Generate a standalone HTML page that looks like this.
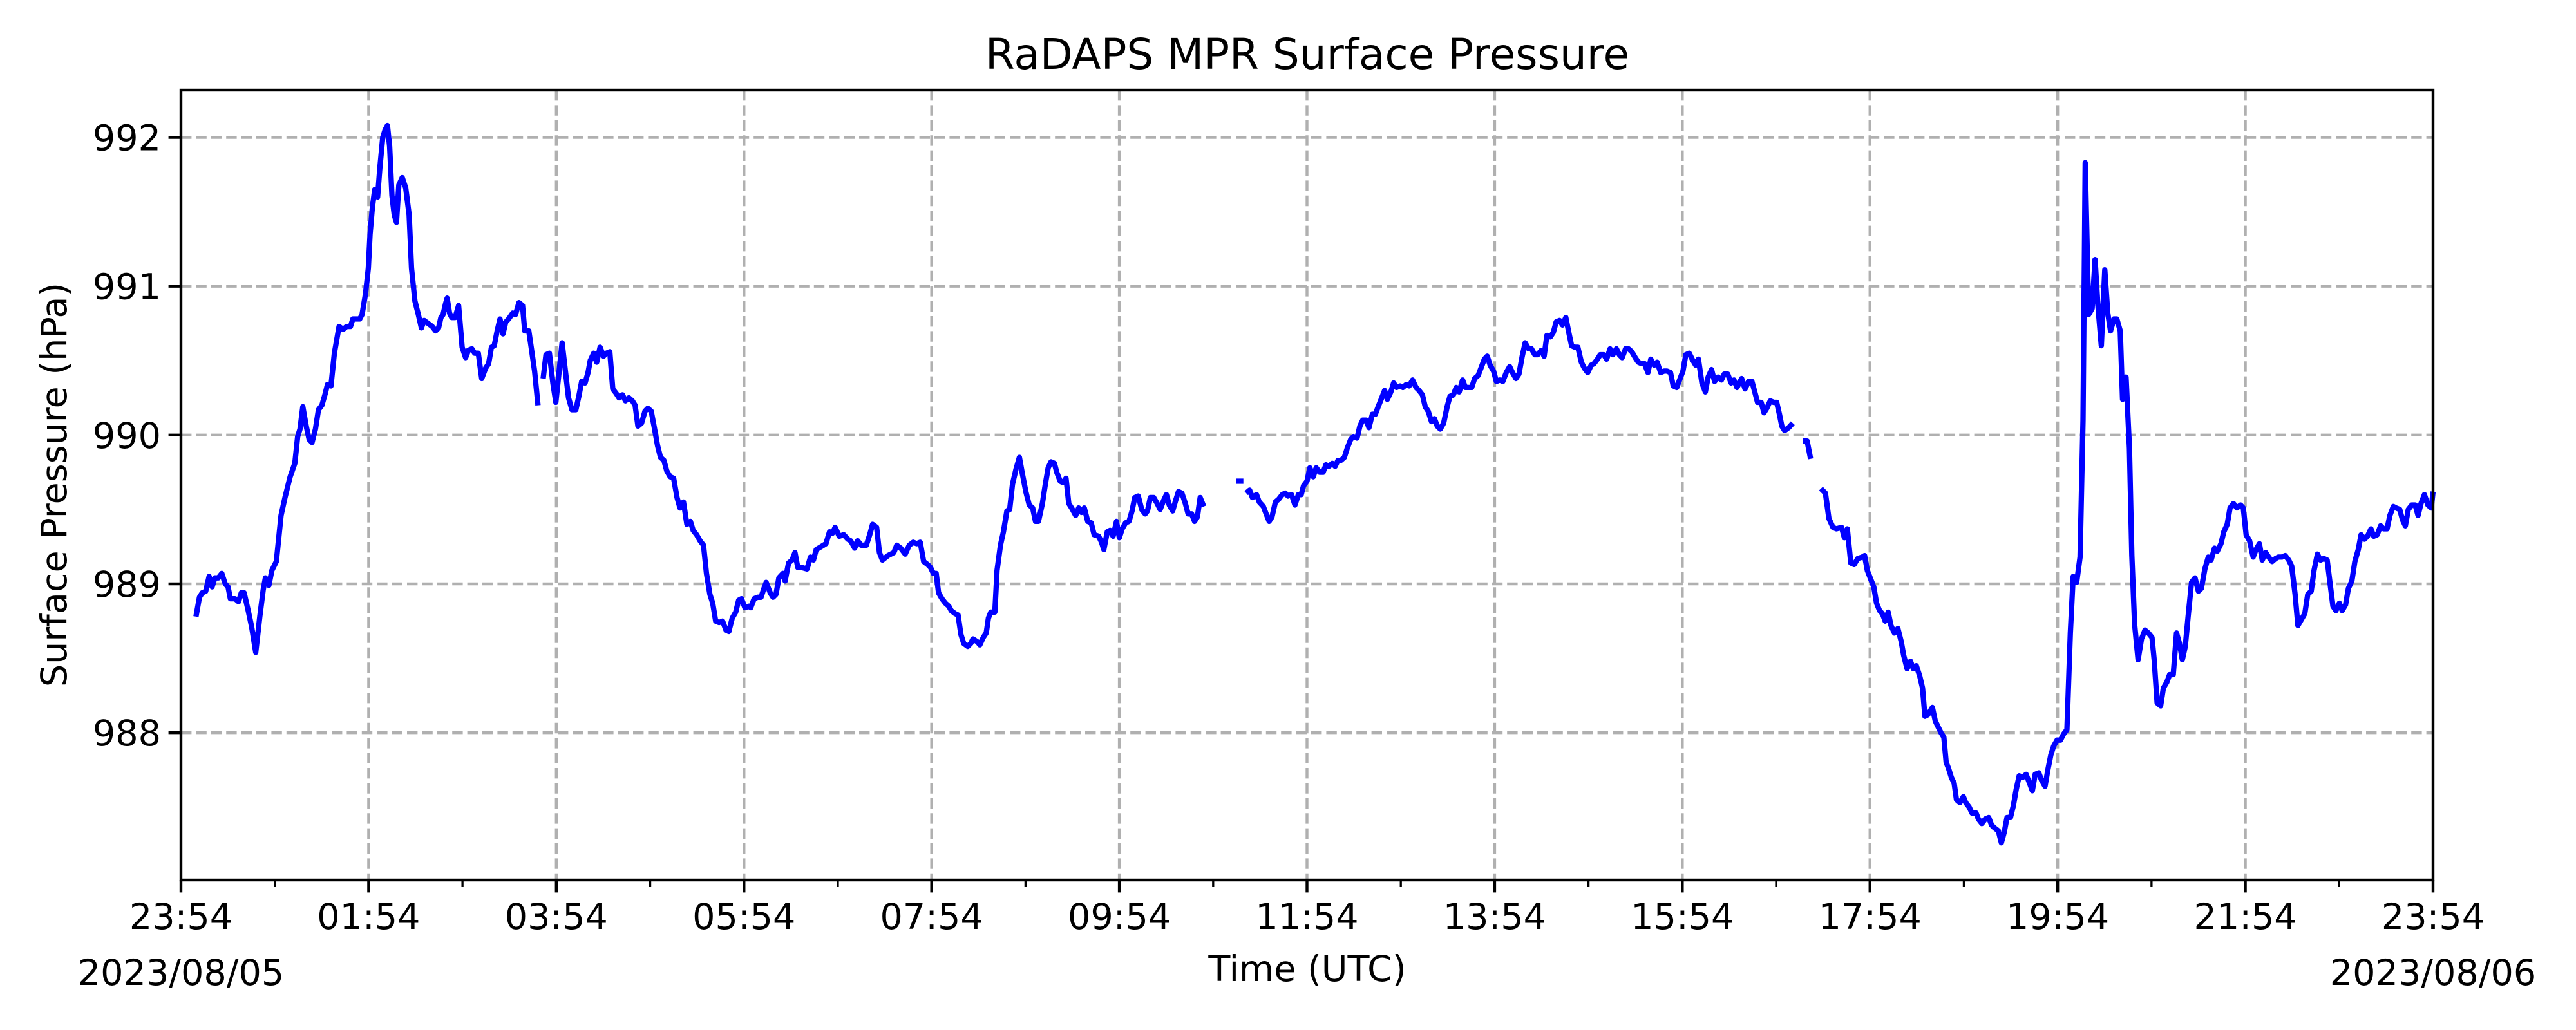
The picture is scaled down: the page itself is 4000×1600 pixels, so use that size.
<!DOCTYPE html>
<html><head><meta charset="utf-8"><title>RaDAPS MPR Surface Pressure</title>
<style>html,body{margin:0;padding:0;background:#fff;}svg{display:block;}text{font-family:"DejaVu Sans","Liberation Sans",sans-serif;fill:#000;}</style>
</head><body>
<svg id="chart" xmlns="http://www.w3.org/2000/svg" width="4000" height="1600" viewBox="0 0 4000 1600">
<rect width="4000" height="1600" fill="#fff"/>
<text x="2030" y="107" font-size="66" text-anchor="middle">RaDAPS MPR Surface Pressure</text>
<g id="grid"></g>
<g id="series"></g>
<rect x="281" y="140" width="3497" height="1227" fill="none" stroke="#000" stroke-width="4.4"/>
<g id="axes"></g>
<text x="2030" y="1524" font-size="55.6" text-anchor="middle">Time (UTC)</text>
<text x="0" y="0" font-size="55.6" text-anchor="middle" transform="translate(103,753) rotate(-90)">Surface Pressure (hPa)</text>
<text x="281" y="1530" font-size="55.6" text-anchor="middle">2023/08/05</text>
<text x="3778" y="1530" font-size="55.6" text-anchor="middle">2023/08/06</text>
</svg>
<script>
// minutes since 23:54 (2023/08/05); null = data gap
const times = [9.6,11.8,13.6,15.8,18.0,19.9,21.7,23.9,26.1,28.3,30.1,31.6,34.6,36.8,38.6,40.4,43.0,45.2,47.8,50.4,52.6,54.0,56.2,58.1,61.0,64.0,66.5,69.8,72.8,74.6,76.1,77.9,80.1,82.0,83.8,86.0,87.9,90.1,92.3,93.7,95.9,98.1,101.1,103.7,105.9,108.4,109.9,114.3,115.8,118.0,119.8,120.9,122.4,123.9,125.7,127.2,129.0,130.5,132.0,133.4,134.9,136.4,137.8,139.3,141.5,143.7,145.9,147.4,149.6,151.8,153.7,155.5,158.1,160.6,162.8,164.7,166.2,167.6,169.1,170.2,171.7,173.1,175.3,177.5,179.8,182.0,183.8,186.0,187.8,190.1,192.3,194.8,196.7,198.5,200.3,202.2,204.0,205.9,207.7,209.5,212.1,213.9,216.1,218.4,219.8,222.4,224.2,226.1,228.3,null,231.6,233.4,235.6,237.8,239.7,241.5,243.7,245.9,247.8,250.0,252.5,254.4,256.2,258.4,260.3,261.7,263.9,265.8,268.0,270.2,272.0,274.2,276.1,278.3,280.1,282.3,284.2,286.4,288.6,290.4,292.2,294.5,296.7,298.5,300.7,302.5,304.7,306.6,308.8,310.6,312.8,315.0,317.2,319.1,321.3,323.5,325.7,327.5,329.7,331.9,334.1,336.0,338.2,340.0,341.9,344.1,346.3,348.5,350.3,352.5,354.7,356.6,358.4,360.6,363.2,364.3,366.5,368.7,370.9,373.1,374.2,376.8,378.6,380.5,382.3,384.9,386.3,388.5,390.8,392.6,394.4,397.0,400.3,402.5,404.4,406.2,412.4,414.7,416.5,418.3,420.9,423.8,426.4,428.2,430.8,432.7,434.9,438.2,440.4,442.2,444.8,446.6,448.5,452.1,455.8,457.7,
460.2,463.1,465.7,468.2,470.4,472.7,474.9,477.4,479.3,481.1,482.9,484.4,486.6,488.8,491.0,492.5,495.0,496.9,498.7,500.5,503.1,505.0,506.4,509.3,510.8,513.0,514.9,516.3,517.8,520.4,521.8,524.0,525.9,528.1,529.9,531.7,533.9,536.1,538.0,540.2,542.4,544.6,546.4,548.3,550.8,552.7,554.5,556.3,558.5,560.0,562.2,564.0,565.9,567.7,569.5,572.1,574.0,575.8,577.6,579.8,582.0,583.9,586.8,588.6,590.1,592.3,594.1,596.0,598.2,600.0,601.8,604.0,606.2,608.1,609.9,612.1,614.3,616.5,618.0,619.8,622.0,624.2,626.1,628.3,630.1,631.9,634.1,636.0,637.8,640.0,642.2,644.0,646.2,648.1,649.9,651.7,654.0,null,674.9,679.3,null,681.1,683.3,685.1,687.7,689.5,692.1,693.9,695.8,697.6,699.8,702.0,704.2,706.1,707.9,710.1,712.3,714.5,716.3,717.8,720.0,721.8,724.0,725.9,728.1,730.3,732.1,734.0,736.2,738.0,739.8,741.7,743.9,745.7,747.9,749.7,752.0,753.8,755.6,757.8,759.6,761.8,763.7,765.5,767.4,769.6,771.4,773.6,775.4,777.3,779.5,781.3,783.5,785.3,787.5,789.7,791.6,793.8,795.6,797.5,799.6,801.5,803.3,805.2,807.4,809.6,811.4,813.6,815.4,817.3,819.5,821.3,823.5,825.3,827.2,829.4,831.6,833.4,835.2,837.1,839.3,841.1,843.3,845.2,847.4,849.6,851.4,853.6,855.5,857.6,859.5,861.7,863.5,865.7,867.5,869.8,871.6,873.4,875.6,877.5,879.3,881.5,883.3,885.5,887.4,889.2,891.4,893.2,895.4,897.3,899.5,901.7,903.5,905.7,907.5,909.8,911.6,913.8,915.6,917.8,919.7,921.5,923.7,925.5,927.7,929.9,931.8,934.0,935.8,938.0,939.8,942.0,943.9,946.1,948.3,950.1,952.4,954.2,956.4,958.2,960.4,962.2,964.4,966.3,968.5,970.3,972.5,974.7,976.5,978.7,980.6,982.8,985.0,986.8,989.0,991.2,993.0,994.9,
997.9,1000.1,1002.3,1004.5,1006.3,1008.1,1010.4,1012.2,1014.0,1016.2,1018.4,1020.3,1022.1,1023.6,1025.4,1028.0,1030.6,null,1037.2,1039.8,1042.0,null,1048.6,1051.5,1053.7,1056.3,1058.5,1061.8,1063.6,1065.5,1067.7,1069.9,1072.1,1075.0,1076.5,1078.3,1080.5,1082.4,1084.2,1086.1,1087.9,1089.7,1091.6,1093.4,1095.6,1097.8,1100.0,1101.5,1103.7,1105.9,1107.7,1109.6,1111.8,1113.6,1115.1,1116.9,1119.9,1121.7,1123.5,1125.4,1127.2,1128.7,1130.2,1132.0,1133.8,1135.3,1137.5,1139.7,1141.2,1143.4,1145.2,1147.8,1149.3,1151.5,1153.7,1155.9,1157.7,1159.6,1162.1,1164.0,1165.8,1167.6,1169.8,1171.7,1173.5,1175.4,1177.6,1179.8,1182.0,1183.8,1185.6,1187.9,1189.7,1191.9,1193.7,1195.6,1197.4,1199.6,1201.8,1203.7,1205.9,1208.1,1209.9,1212.1,1214.3,1216.2,1217.6,1219.8,1222.0,1223.9,1225.7,1227.9,1230.1,1232.0,1233.8,1236.0,1237.8,1240.0,1241.5,1243.7,1245.9,1247.4,1249.2,1251.4,1253.6,1255.8,1258.0,1260.3,1261.7,1263.6,1265.8,1267.6,1269.8,1271.6,1273.9,1276.0,1277.9,1279.7,1281.6,1283.4,1285.6,1287.8,1290.0,1291.9,1294.1,1296.3,1298.1,1300.3,1302.1,1304.4,1306.2,1308.4,1310.2,1312.4,1314.6,1316.9,1318.7,1320.5,1322.7,1325.0,1326.8,1329.0,1330.8,1333.0,1334.9,1337.1,1339.3,1341.1,1343.3,1345.5,1347.7,1349.6,1351.8,1353.6,1355.8,1358.0,1359.9,1362.1,1363.9,1366.1,1368.0,1370.2,1372.3,1374.2,1376.0,1377.9,1380.1,1381.9,1384.1,1385.9,1388.1,1390.0,1392.2,1394.0,1396.2,1398.1,1400.3,1402.1,1404.3,1406.5,1408.4,1410.6,1412.4,1414.6,1416.4,1418.7,1420.5,1422.3,1424.2,1426.4,1428.6,1430.4,1432.3,1434.5,1436.7,1438.9,1440.0];
const pressure = [988.78,988.91,988.94,988.95,989.05,988.98,989.04,989.04,989.07,989.00,988.98,988.90,988.90,988.88,988.94,988.94,988.82,988.71,988.54,988.78,988.96,989.04,988.99,989.09,989.15,989.46,989.58,989.72,989.81,989.99,990.04,990.19,990.06,989.97,989.95,990.04,990.17,990.20,990.28,990.34,990.33,990.55,990.73,990.71,990.73,990.73,990.78,990.78,990.81,990.95,991.12,991.35,991.53,991.65,991.60,991.80,992.00,992.05,992.08,991.94,991.61,991.48,991.43,991.68,991.73,991.66,991.48,991.12,990.90,990.81,990.72,990.77,990.75,990.73,990.70,990.72,990.79,990.81,990.88,990.92,990.82,990.79,990.79,990.87,990.59,990.52,990.57,990.58,990.55,990.55,990.38,990.45,990.48,990.59,990.60,990.70,990.78,990.68,990.76,990.78,990.82,990.81,990.89,990.87,990.70,990.70,990.57,990.43,990.20,null,990.38,990.54,990.55,990.35,990.22,990.40,990.62,990.42,990.25,990.17,990.17,990.26,990.36,990.35,990.42,990.50,990.55,990.49,990.59,990.53,990.55,990.56,990.31,990.28,990.25,990.27,990.23,990.25,990.23,990.20,990.06,990.08,990.16,990.18,990.16,990.06,989.93,989.85,989.83,989.76,989.72,989.71,989.58,989.51,989.55,989.40,989.42,989.36,989.33,989.29,989.26,989.07,988.93,988.87,988.75,988.74,988.75,988.69,988.68,988.77,988.81,988.89,988.90,988.84,988.85,988.84,988.90,988.91,988.91,988.98,989.01,988.94,988.91,988.93,989.04,989.07,989.02,989.14,989.16,989.21,989.11,989.11,989.10,989.18,989.16,989.23,989.27,989.35,989.34,989.38,989.32,989.33,989.30,989.29,989.24,989.29,989.26,989.26,989.33,989.40,989.38,989.21,989.16,989.19,989.21,989.26,
989.24,989.20,989.26,989.28,989.27,989.28,989.15,989.13,989.11,989.07,989.07,988.94,988.90,988.87,988.85,988.82,988.80,988.79,988.66,988.60,988.58,988.60,988.63,988.61,988.59,988.64,988.67,988.77,988.81,988.81,989.09,989.26,989.35,989.49,989.50,989.67,989.77,989.85,989.74,989.62,989.53,989.51,989.42,989.42,989.54,989.67,989.78,989.82,989.81,989.75,989.69,989.68,989.71,989.54,989.51,989.46,989.51,989.48,989.51,989.42,989.41,989.33,989.32,989.28,989.23,989.35,989.36,989.32,989.42,989.31,989.37,989.41,989.42,989.49,989.58,989.59,989.50,989.47,989.49,989.58,989.58,989.54,989.50,989.56,989.60,989.53,989.49,989.56,989.62,989.61,989.54,989.47,989.47,989.42,989.45,989.58,989.52,null,989.69,989.69,null,989.61,989.63,989.58,989.60,989.55,989.52,989.47,989.42,989.45,989.55,989.57,989.60,989.61,989.59,989.60,989.53,989.60,989.60,989.66,989.69,989.78,989.72,989.78,989.75,989.75,989.80,989.79,989.81,989.79,989.83,989.83,989.85,989.91,989.97,989.99,989.98,990.06,990.10,990.10,990.05,990.14,990.14,990.19,990.24,990.30,990.24,990.29,990.35,990.32,990.33,990.32,990.34,990.33,990.37,990.32,990.30,990.27,990.19,990.16,990.09,990.11,990.06,990.04,990.08,990.19,990.26,990.27,990.32,990.29,990.37,990.32,990.32,990.32,990.38,990.40,990.46,990.51,990.53,990.47,990.43,990.36,990.37,990.36,990.42,990.46,990.42,990.38,990.41,990.53,990.62,990.58,990.58,990.54,990.54,990.57,990.53,990.67,990.66,990.69,990.76,990.77,990.74,990.79,990.69,990.60,990.59,990.59,990.49,990.45,990.42,990.47,990.48,990.51,990.54,990.54,990.51,990.58,990.54,990.58,990.54,990.52,990.58,990.58,990.56,990.52,990.49,990.48,990.48,990.42,990.51,990.47,990.49,990.42,990.43,990.43,990.42,990.33,990.32,990.37,990.43,990.54,990.55,990.51,990.47,990.51,990.35,990.29,990.39,990.44,990.36,990.39,990.37,990.41,990.41,990.35,990.37,990.32,
990.38,990.31,990.36,990.36,990.29,990.22,990.22,990.15,990.18,990.23,990.22,990.22,990.14,990.06,990.03,990.05,990.08,null,989.96,989.96,989.84,null,989.64,989.61,989.44,989.38,989.37,989.38,989.31,989.37,989.14,989.13,989.17,989.18,989.19,989.09,989.03,988.98,988.87,988.82,988.80,988.75,988.81,988.72,988.67,988.70,988.61,988.52,988.43,988.48,988.43,988.45,988.38,988.30,988.11,988.12,988.17,988.08,988.04,988.00,987.97,987.80,987.76,987.70,987.66,987.55,987.53,987.57,987.53,987.50,987.46,987.46,987.42,987.39,987.42,987.43,987.38,987.36,987.34,987.26,987.33,987.43,987.43,987.51,987.62,987.71,987.70,987.72,987.66,987.61,987.72,987.73,987.68,987.64,987.75,987.85,987.91,987.95,987.95,987.99,988.02,988.67,989.05,989.01,989.18,990.10,991.83,990.81,990.85,991.18,990.87,990.60,991.11,990.82,990.70,990.78,990.78,990.70,990.24,990.39,989.91,989.19,988.73,988.49,988.63,988.69,988.67,988.64,988.49,988.20,988.18,988.30,988.34,988.39,988.39,988.67,988.60,988.49,988.58,988.78,989.01,989.04,988.95,988.97,989.10,989.18,989.16,989.24,989.22,989.27,989.35,989.40,989.51,989.54,989.51,989.53,989.51,989.33,989.29,989.18,989.23,989.27,989.16,989.21,989.18,989.15,989.17,989.18,989.18,989.19,989.16,989.12,988.93,988.72,988.76,988.80,988.93,988.95,989.09,989.20,989.16,989.17,989.16,989.00,988.85,988.82,988.87,988.82,988.86,988.97,989.02,989.15,989.23,989.33,989.30,989.32,989.37,989.32,989.33,989.39,989.37,989.37,989.46,989.52,989.51,989.50,989.43,989.39,989.50,989.53,989.53,989.46,989.54,989.60,989.53,989.51,989.62];
const yTicks = [988, 989, 990, 991, 992];
const xTickMinutes = [0,120,240,360,480,600,720,840,960,1080,1200,1320,1440];
const xTickLabels = ["23:54","01:54","03:54","05:54","07:54","09:54","11:54","13:54","15:54","17:54","19:54","21:54","23:54"];
const xMinorMinutes = [60,180,300,420,540,660,780,900,1020,1140,1260,1380];

const L=281,R=3778,T=140,B=1367, Y0=987.01, Y1=992.318;
const xs = m => L + m/1440*(R-L);
const ys = v => B - (v-Y0)/(Y1-Y0)*(B-T);
const NS="http://www.w3.org/2000/svg";
const grid=document.getElementById('grid'), axes=document.getElementById('axes'), series=document.getElementById('series');
function mk(tag, attrs, parent){const e=document.createElementNS(NS,tag);for(const k in attrs)e.setAttribute(k,attrs[k]);parent.appendChild(e);return e;}
yTicks.forEach(v=>{
  const y=ys(v);
  const g=mk('line',{x1:L,x2:R,y1:y,y2:y,stroke:'#b0b0b0','stroke-width':4.4,'stroke-dasharray':'16.4 7'},grid);
  
  
  const t=mk('line',{x1:L-19.4,x2:L,y1:y,y2:y,stroke:'#000','stroke-width':4.4},axes);
  
  
  const lb=mk('text',{x:L-31,y:y+20,'font-size':55.6,'text-anchor':'end'},axes);
  lb.textContent=String(v);
  
  
});
xTickMinutes.forEach((m,i)=>{
  const x=xs(m);
  if(i>0&&i<xTickMinutes.length-1){
    const g=mk('line',{x1:x,x2:x,y1:T,y2:B,stroke:'#b0b0b0','stroke-width':4.4,'stroke-dasharray':'16.4 7'},grid);
    
    
  }
  const t=mk('line',{x1:x,x2:x,y1:B,y2:B+19.4,stroke:'#000','stroke-width':4.4},axes);
  
  
  const lb=mk('text',{x:x,y:B+76,'font-size':55.6,'text-anchor':'middle'},axes);
  lb.textContent=xTickLabels[i];
  
  
});
xMinorMinutes.forEach(m=>{
  const x=xs(m);
  const t=mk('line',{x1:x,x2:x,y1:B,y2:B+11,stroke:'#000','stroke-width':3.3},axes);
  
  
});
let d='', pen=false;
for(let i=0;i<times.length;i++){
  if(times[i]===null||pressure[i]===null){pen=false;continue;}
  d+=(pen?'L':'M')+xs(times[i]).toFixed(1)+' '+ys(pressure[i]).toFixed(1)+' ';
  pen=true;
}
const p=mk('path',{d:d,fill:'none',stroke:'#0000ff','stroke-width':8.3,'stroke-linejoin':'round','stroke-linecap':'butt'},series);


</script>
</body></html>
